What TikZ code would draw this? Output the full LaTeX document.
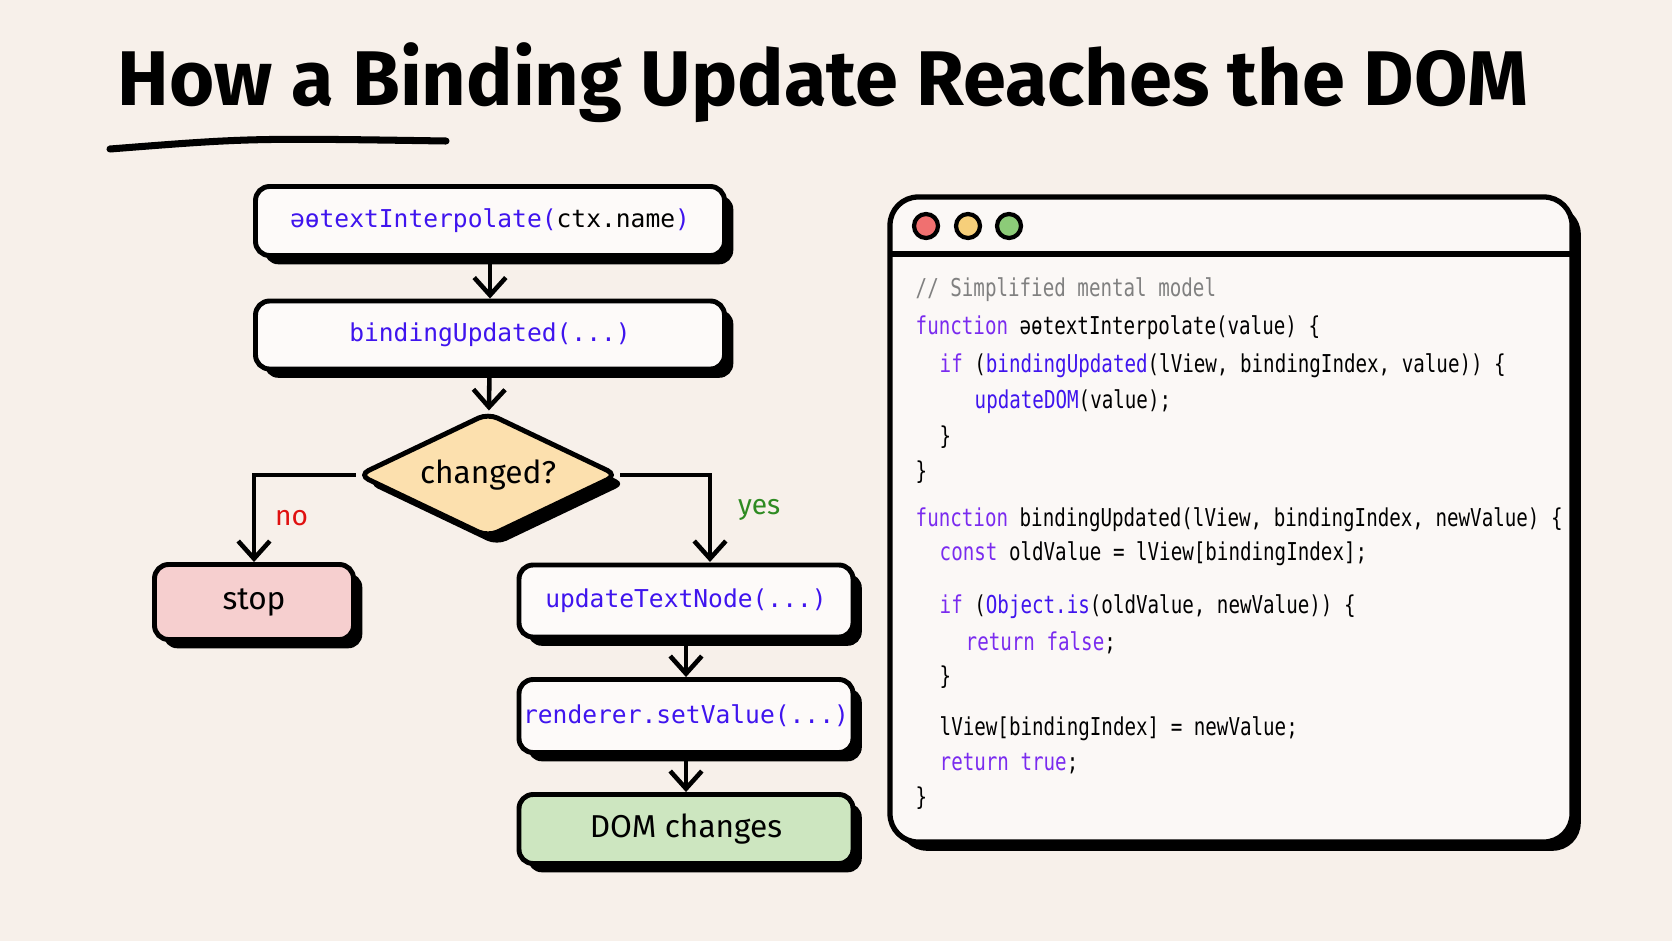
\documentclass[tikz,border=0pt]{standalone}
\usepackage{fontspec}
\setmainfont{Fira Sans}
\newfontfamily\codefont{DejaVu Sans Mono}
\usetikzlibrary{shapes.geometric,arrows.meta,positioning,shadows}
\definecolor{paper}{HTML}{F7F0EA}
\definecolor{fnblue}{HTML}{3F14EE}
\definecolor{kwviolet}{HTML}{7A2BEF}
\definecolor{stopred}{HTML}{F6CFCF}
\definecolor{domgreen}{HTML}{CDE6C0}
\definecolor{askorange}{HTML}{FCE0AE}
\definecolor{nored}{HTML}{E01010}
\definecolor{yesgreen}{HTML}{2E8B22}
\newcommand{\fn}[1]{\textcolor{fnblue}{#1}}
\newcommand{\kw}[1]{\textcolor{kwviolet}{#1}}
\newcommand{\codeln}[1]{\scalebox{.78}[1]{#1}}
\tikzset{
  card/.style={draw=black, line width=1.4pt, rounded corners=4pt, fill=white!70!paper,
    drop shadow={shadow xshift=2.5pt, shadow yshift=-2.5pt, fill=black, opacity=1},
    font=\codefont\fontsize{7}{9}\selectfont, inner sep=0pt},
  flow/.style={-{Straight Barb[length=5pt,width=9pt]}, line width=1.3pt},
  codeline/.style={anchor=west, inner sep=0pt, font=\codefont\fontsize{7}{8}\selectfont}
}
\begin{document}
\begin{tikzpicture}
\fill[paper] (0,0) rectangle (16.72,-9.41);
\useasboundingbox (0,0) rectangle (16.72,-9.41);

% title
\node (title) at (8.23,-0.83) {\resizebox{14.1cm}{!}{\bfseries How a Binding Update Reaches the DOM}};
\draw[line width=2pt, line cap=round] (1.10,-1.49) .. controls (2.5,-1.38) .. (4.46,-1.41);

% flow chart
\node[card, minimum width=4.69cm, minimum height=0.69cm] (interp) at (4.90,-2.21)
  {\fn{əɵtextInterpolate(}ctx.name\fn{)}};
\node[card, minimum width=4.69cm, minimum height=0.68cm] (bind) at (4.90,-3.35)
  {\fn{bindingUpdated(...)}};
\node[card, diamond, rounded corners=3pt, fill=askorange, minimum width=2.6cm, minimum height=1.25cm,
  label={[font=\fontsize{9}{11}\selectfont]center:changed?}] (changed) at (4.88,-4.75) {};
\node[card, fill=stopred, minimum width=1.99cm, minimum height=0.75cm,
  font=\fontsize{9}{11}\selectfont] (stop) at (2.54,-6.02) {stop};
\node[card, minimum width=3.34cm, minimum height=0.72cm] (textnode) at (6.86,-6.01)
  {\fn{updateTextNode(...)}};
\node[card, minimum width=3.34cm, minimum height=0.73cm] (setvalue) at (6.86,-7.16)
  {\fn{renderer.setValue(...)}};
\node[card, fill=domgreen, minimum width=3.34cm, minimum height=0.69cm,
  font=\fontsize{9}{11}\selectfont] (dom) at (6.86,-8.29) {DOM changes};
\coordinate (yesend) at (7.10,-5.62);

\draw[flow] (interp) -- (bind);
\draw[flow] (bind) -- (changed);
\draw[flow] (changed.west) -| (stop.north) node[pos=.75, right=2pt, text=nored, font=\fontsize{8}{10}\selectfont] (no) {no};
\draw[flow] (changed.east) -| (yesend) node[pos=.7, right=4pt, text=yesgreen, font=\fontsize{8}{10}\selectfont] (yes) {yes};
\draw[flow] (textnode) -- (setvalue);
\draw[flow] (setvalue) -- (dom);

% code window
\draw[line width=1.5pt, rounded corners=8pt, fill=white!55!paper,
  drop shadow={shadow xshift=2.5pt, shadow yshift=-2.5pt, fill=black, opacity=1}]
  (8.90,-1.97) rectangle (15.72,-8.42);
\draw[line width=1.5pt] (8.90,-2.54) -- (15.72,-2.54);
\foreach \x/\c in {9.26/F07070, 9.68/F6CF7A, 10.09/8CCB78}{
  \definecolor{dot}{HTML}{\c}
  \draw[line width=1.2pt, fill=dot] (\x,-2.26) circle (0.12);
}

\node[codeline, text=gray] (c1) at (9.15,-2.90) {\codeln{// Simplified mental model}};
\node[codeline] (c2) at (9.15,-3.28) {\codeln{\kw{function} əɵtextInterpolate(value) \{}};
\node[codeline] (c3) at (9.39,-3.66) {\codeln{\kw{if} (\fn{bindingUpdated}(lView, bindingIndex, value)) \{}};
\node[codeline] (c4) at (9.74,-4.02) {\codeln{\fn{updateDOM}(value);}};
\node[codeline] (c5) at (9.39,-4.37) {\codeln{\}}};
\node[codeline] (c6) at (9.15,-4.72) {\codeln{\}}};
\node[codeline] (c7) at (9.15,-5.20) {\codeln{\kw{function} bindingUpdated(lView, bindingIndex, newValue) \{}};
\node[codeline] (c8) at (9.39,-5.54) {\codeln{\kw{const} oldValue = lView[bindingIndex];}};
\node[codeline] (c9) at (9.39,-6.07) {\codeln{\kw{if} (\fn{Object.is}(oldValue, newValue)) \{}};
\node[codeline] (c10) at (9.65,-6.43) {\codeln{\kw{return} \kw{false};}};
\node[codeline] (c11) at (9.39,-6.77) {\codeln{\}}};
\node[codeline] (c12) at (9.39,-7.29) {\codeln{lView[bindingIndex] = newValue;}};
\node[codeline] (c13) at (9.39,-7.64) {\codeln{\kw{return} \kw{true};}};
\node[codeline] (c14) at (9.15,-7.98) {\codeln{\}}};
\end{tikzpicture}
\end{document}
